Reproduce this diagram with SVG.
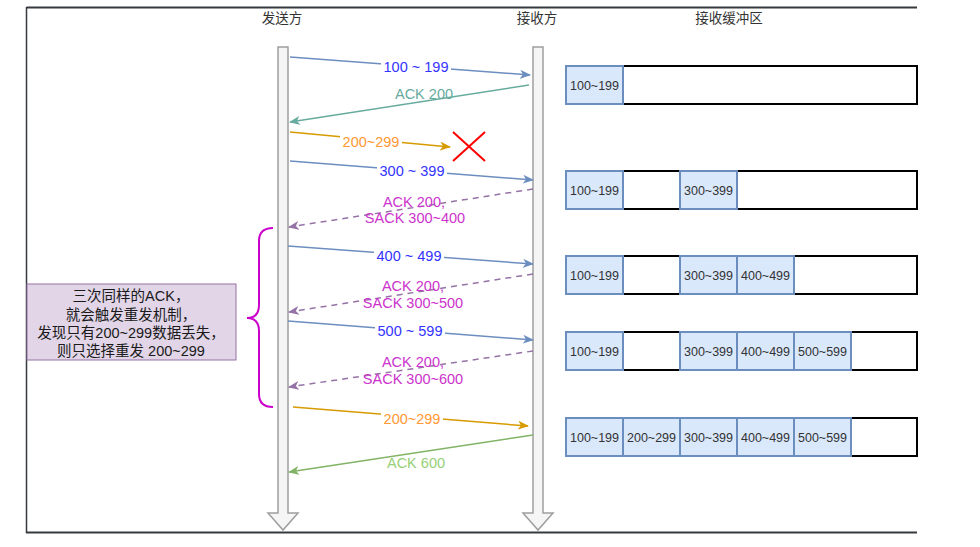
<svg xmlns="http://www.w3.org/2000/svg" width="980" height="547" viewBox="0 0 980 547">
<style>
text{font-family:"Liberation Sans","Noto Sans CJK SC",Arial,sans-serif;}
.hdr{font-size:13.5px;fill:#333;text-anchor:middle;}
.lbl{font-size:14.5px;text-anchor:middle;}
.blue{fill:#3333FF;}
.org{fill:#FF9933;}
.grn{fill:#67AB9F;}
.mag{fill:#CC33CC;}
.lgr{fill:#97D077;}
.life{fill:#f5f5f5;stroke:#9e9e9e;stroke-width:1.5;}
.buf{fill:#fff;stroke:#000;stroke-width:2;}
.cell{fill:#dae8fc;stroke:#6c8ebf;stroke-width:2;}
.ct{font-size:12.5px;fill:#333;text-anchor:middle;}
.nt{font-size:14.5px;fill:#1a1a1a;text-anchor:middle;}
.bg{fill:#fff;}
</style>
<defs>
<marker id="mBlue" markerUnits="userSpaceOnUse" markerWidth="12" markerHeight="10" refX="10" refY="4.5" orient="auto"><path d="M0,0 L11,4.5 L0,9 L3,4.5 z" fill="#6c8ebf"/></marker>
<marker id="mTeal" markerUnits="userSpaceOnUse" markerWidth="12" markerHeight="10" refX="10" refY="4.5" orient="auto"><path d="M0,0 L11,4.5 L0,9 L3,4.5 z" fill="#67AB9F"/></marker>
<marker id="mOrg" markerUnits="userSpaceOnUse" markerWidth="12" markerHeight="10" refX="10" refY="4.5" orient="auto"><path d="M0,0 L11,4.5 L0,9 L3,4.5 z" fill="#d79b00"/></marker>
<marker id="mPur" markerUnits="userSpaceOnUse" markerWidth="12" markerHeight="10" refX="10" refY="4.5" orient="auto"><path d="M0,0 L11,4.5 L0,9 L3,4.5 z" fill="#9673a6"/></marker>
<marker id="mGrn" markerUnits="userSpaceOnUse" markerWidth="12" markerHeight="10" refX="10" refY="4.5" orient="auto"><path d="M0,0 L11,4.5 L0,9 L3,4.5 z" fill="#82b366"/></marker>
</defs>
<rect width="980" height="547" fill="#fff"/>
<g id="frame" fill="none" stroke="#36393d">
<path d="M26.5,7.5 H917" stroke-width="2"/>
<path d="M26.5,7 V533" stroke-width="1.5"/>
<path d="M26,532.5 H917" stroke-width="2"/>
</g>
<g id="headers">
<text class="hdr" x="282" y="23">发送方</text>
<text class="hdr" x="537" y="23">接收方</text>
<text class="hdr" x="729" y="23">接收缓冲区</text>
</g>
<g id="sender"><polygon class="life" points="278,47 288,47 288,513 298,513 283,530 268,513 278,513"/></g>
<g id="receiver"><polygon class="life" points="533,47 543,47 543,513 553,513 538,530 523,513 533,513"/></g>
<g id="connectors" fill="none" stroke-width="1.5">
<line x1="290" y1="57" x2="530" y2="75" stroke="#6c8ebf" marker-end="url(#mBlue)"/>
<line x1="529" y1="85" x2="290" y2="122" stroke="#67AB9F" marker-end="url(#mTeal)"/>
<line x1="290" y1="132" x2="450" y2="147" stroke="#d79b00" marker-end="url(#mOrg)"/>
<line x1="290" y1="161" x2="533" y2="180" stroke="#6c8ebf" marker-end="url(#mBlue)"/>
<line x1="533" y1="189" x2="289" y2="227" stroke="#9673a6" stroke-dasharray="6 5" marker-end="url(#mPur)"/>
<line x1="288" y1="246" x2="533" y2="264" stroke="#6c8ebf" marker-end="url(#mBlue)"/>
<line x1="533" y1="274" x2="289" y2="312" stroke="#9673a6" stroke-dasharray="6 5" marker-end="url(#mPur)"/>
<line x1="288" y1="321" x2="533" y2="340" stroke="#6c8ebf" marker-end="url(#mBlue)"/>
<line x1="533" y1="351" x2="289" y2="387" stroke="#9673a6" stroke-dasharray="6 5" marker-end="url(#mPur)"/>
<line x1="293" y1="407" x2="528" y2="426" stroke="#d79b00" marker-end="url(#mOrg)"/>
<line x1="533" y1="435" x2="289" y2="472" stroke="#82b366" marker-end="url(#mGrn)"/>
</g>
<g id="cross" stroke="#ff0000" stroke-width="2">
<line x1="453" y1="132" x2="485" y2="161"/>
<line x1="485" y1="132" x2="453" y2="161"/>
</g>
<g id="labels">
<rect class="bg" x="381" y="59" width="70" height="15"/>
<text class="lbl blue" x="416" y="72">100 ~ 199</text>
<text class="lbl grn" x="424" y="99">ACK 200</text>
<rect class="bg" x="340" y="135" width="62" height="15"/>
<text class="lbl org" x="371" y="147">200~299</text>
<rect class="bg" x="377" y="163" width="70" height="15"/>
<text class="lbl blue" x="412" y="176">300 ~ 399</text>
<text class="lbl mag" x="414" y="207">ACK 200,</text>
<text class="lbl mag" x="415" y="223">SACK 300~400</text>
<rect class="bg" x="374" y="248" width="70" height="15"/>
<text class="lbl blue" x="409" y="261">400 ~ 499</text>
<text class="lbl mag" x="413" y="291">ACK 200,</text>
<text class="lbl mag" x="413" y="308">SACK 300~500</text>
<rect class="bg" x="375" y="323" width="70" height="15"/>
<text class="lbl blue" x="410" y="336">500 ~ 599</text>
<text class="lbl mag" x="413" y="367">ACK 200,</text>
<text class="lbl mag" x="413" y="384">SACK 300~600</text>
<rect class="bg" x="381" y="412" width="62" height="15"/>
<text class="lbl org" x="412" y="424">200~299</text>
<text class="lbl lgr" x="416" y="468">ACK 600</text>
</g>
<g id="brace">
<path d="M273,228 Q259,228 259,241 L259,305 Q259,318 247,318 Q259,318 259,331 L259,394 Q259,407 273,407" fill="none" stroke="#CC00CC" stroke-width="2"/>
</g>
<g id="note">
<rect x="27" y="284" width="209" height="76" fill="#e1d5e7" stroke="#9673a6" stroke-width="1"/>
<text class="nt" x="131" y="301">三次同样的ACK，</text>
<text class="nt" x="131" y="320">就会触发重发机制，</text>
<text class="nt" x="131" y="338">发现只有200~299数据丢失，</text>
<text class="nt" x="131" y="356">则只选择重发 200~299</text>
</g>
<g id="buffer1">
<rect class="buf" x="566" y="66" width="351" height="38"/>
<rect class="cell" x="566" y="66" width="57" height="38"/><text class="ct" x="594.5" y="89.5">100~199</text>
</g>
<g id="buffer2">
<rect class="buf" x="566" y="171" width="351" height="38"/>
<rect class="cell" x="566" y="171" width="57" height="38"/><text class="ct" x="594.5" y="194.5">100~199</text>
<rect class="cell" x="680" y="171" width="57" height="38"/><text class="ct" x="708.5" y="194.5">300~399</text>
</g>
<g id="buffer3">
<rect class="buf" x="566" y="256" width="351" height="38"/>
<rect class="cell" x="566" y="256" width="57" height="38"/><text class="ct" x="594.5" y="279.5">100~199</text>
<rect class="cell" x="680" y="256" width="57" height="38"/><text class="ct" x="708.5" y="279.5">300~399</text>
<rect class="cell" x="737" y="256" width="57" height="38"/><text class="ct" x="765.5" y="279.5">400~499</text>
</g>
<g id="buffer4">
<rect class="buf" x="566" y="332" width="351" height="38"/>
<rect class="cell" x="566" y="332" width="57" height="38"/><text class="ct" x="594.5" y="355.5">100~199</text>
<rect class="cell" x="680" y="332" width="57" height="38"/><text class="ct" x="708.5" y="355.5">300~399</text>
<rect class="cell" x="737" y="332" width="57" height="38"/><text class="ct" x="765.5" y="355.5">400~499</text>
<rect class="cell" x="794" y="332" width="57" height="38"/><text class="ct" x="822.5" y="355.5">500~599</text>
</g>
<g id="buffer5">
<rect class="buf" x="566" y="418" width="351" height="38"/>
<rect class="cell" x="566" y="418" width="57" height="38"/><text class="ct" x="594.5" y="441.5">100~199</text>
<rect class="cell" x="623" y="418" width="57" height="38"/><text class="ct" x="651.5" y="441.5">200~299</text>
<rect class="cell" x="680" y="418" width="57" height="38"/><text class="ct" x="708.5" y="441.5">300~399</text>
<rect class="cell" x="737" y="418" width="57" height="38"/><text class="ct" x="765.5" y="441.5">400~499</text>
<rect class="cell" x="794" y="418" width="57" height="38"/><text class="ct" x="822.5" y="441.5">500~599</text>
</g>
</svg>
